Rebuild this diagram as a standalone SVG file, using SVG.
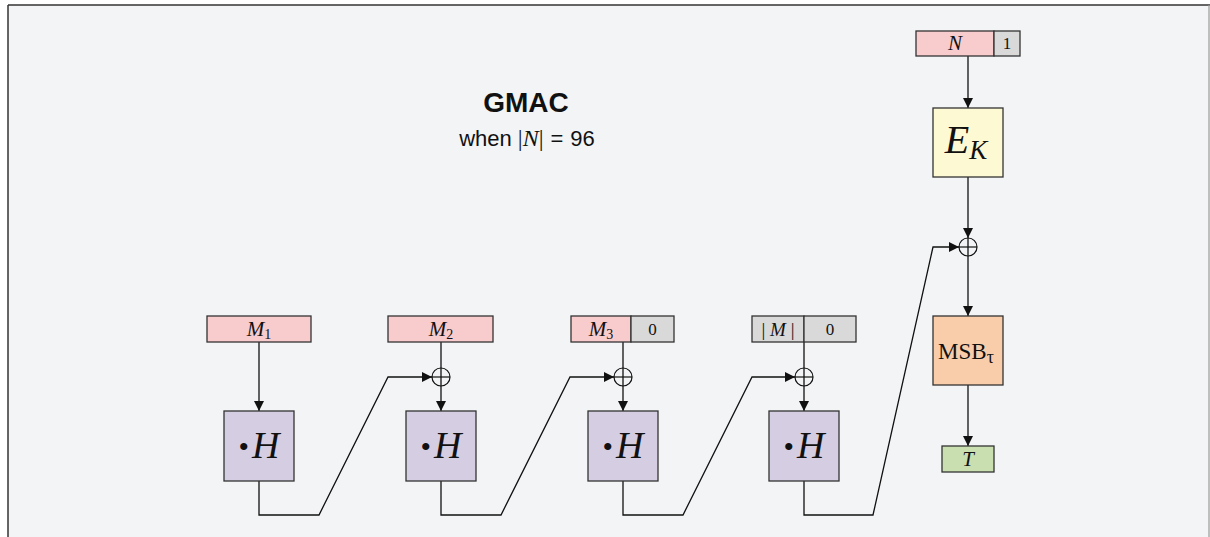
<svg xmlns="http://www.w3.org/2000/svg" width="1210" height="537" viewBox="0 0 1210 537">
  <style>
    .box { stroke: #333; stroke-width: 1.3; }
    .msg { fill: #f8cbcd; }
    .pad { fill: #d9d9d9; }
    .mul { fill: #d5cde1; }
    .enc { fill: #fdf9d3; }
    .trn { fill: #f9cdaa; }
    .tag { fill: #c9dfb0; }
    .wire { fill: none; stroke: #111; stroke-width: 1.3; }
    .xor { fill: none; stroke: #111; stroke-width: 1.2; }
    .math { font-family: "Liberation Serif", "DejaVu Serif", serif; fill: #111; }
    .it { font-style: italic; }
    .sans { font-family: "Liberation Sans", Arial, sans-serif; fill: #111; }
  </style>
  <defs>
    <marker id="arrow" viewBox="0 0 10 10" refX="10" refY="5" markerWidth="10" markerHeight="10" markerUnits="userSpaceOnUse" orient="auto">
      <path d="M0,0 L10,5 L0,10 Z" fill="#111"/>
    </marker>
  </defs>

  <!-- frame -->
  <rect x="0" y="0" width="1210" height="537" fill="#ffffff"/>
  <rect x="8" y="5" width="1202" height="532" fill="#f3f4f6"/>
  <line x1="8" y1="5" x2="1210" y2="5" stroke="#333" stroke-width="1.5"/>
  <line x1="8" y1="5" x2="8" y2="537" stroke="#333" stroke-width="1.5"/>
  <line x1="1209" y1="5" x2="1209" y2="537" stroke="#999" stroke-width="1.2"/>

  <!-- title -->
  <g id="title">
    <text x="526" y="112" text-anchor="middle" class="sans" font-size="28" font-weight="bold">GMAC</text>
    <text x="527" y="146" text-anchor="middle" class="sans" font-size="22">when <tspan class="math" font-size="24">|<tspan class="it">N</tspan>|</tspan><tspan dx="7">=</tspan><tspan dx="7">96</tspan></text>
  </g>

  <!-- connectors -->
  <g id="connectors">
    <!-- inputs into the hash chain -->
    <line class="wire" x1="259" y1="342" x2="259" y2="411" marker-end="url(#arrow)"/>
    <line class="wire" x1="441" y1="342" x2="441" y2="368"/>
    <line class="wire" x1="441" y1="368" x2="441" y2="411" marker-end="url(#arrow)"/>
    <line class="wire" x1="623" y1="342" x2="623" y2="368"/>
    <line class="wire" x1="623" y1="368" x2="623" y2="411" marker-end="url(#arrow)"/>
    <line class="wire" x1="804" y1="342" x2="804" y2="368"/>
    <line class="wire" x1="804" y1="368" x2="804" y2="411" marker-end="url(#arrow)"/>
    <!-- hash outputs fed forward -->
    <polyline class="wire" points="259,481 259,515 319,515 388,377 432,377" marker-end="url(#arrow)"/>
    <polyline class="wire" points="441,481 441,515 501,515 570,377 614,377" marker-end="url(#arrow)"/>
    <polyline class="wire" points="623,481 623,515 683,515 752,377 795,377" marker-end="url(#arrow)"/>
    <polyline class="wire" points="804,481 804,515 873,515 933,247 959,247" marker-end="url(#arrow)"/>
    <!-- nonce path -->
    <line class="wire" x1="968" y1="56" x2="968" y2="108" marker-end="url(#arrow)"/>
    <line class="wire" x1="968" y1="177" x2="968" y2="238" marker-end="url(#arrow)"/>
    <line class="wire" x1="968" y1="238" x2="968" y2="316" marker-end="url(#arrow)"/>
    <line class="wire" x1="968" y1="385" x2="968" y2="446" marker-end="url(#arrow)"/>
    <!-- xor gates -->
    <g>
      <circle class="xor" cx="441" cy="377" r="9"/>
      <line class="xor" x1="432" y1="377" x2="450" y2="377"/>
      <circle class="xor" cx="623" cy="377" r="9"/>
      <line class="xor" x1="614" y1="377" x2="632" y2="377"/>
      <circle class="xor" cx="804" cy="377" r="9"/>
      <line class="xor" x1="795" y1="377" x2="813" y2="377"/>
      <circle class="xor" cx="968" cy="247" r="9"/>
      <line class="xor" x1="959" y1="247" x2="977" y2="247"/>
    </g>
  </g>

  <!-- message blocks -->
  <g id="m1">
    <rect class="box msg" x="207" y="316" width="104" height="26"/>
    <text x="259" y="336" text-anchor="middle" class="math" font-size="21"><tspan class="it">M</tspan><tspan font-size="14" dy="3">1</tspan></text>
  </g>
  <g id="m2">
    <rect class="box msg" x="388" y="316" width="105" height="26"/>
    <text x="441" y="336" text-anchor="middle" class="math" font-size="21"><tspan class="it">M</tspan><tspan font-size="14" dy="3">2</tspan></text>
  </g>
  <g id="m3">
    <rect class="box msg" x="571" y="316" width="60" height="26"/>
    <rect class="box pad" x="631" y="316" width="43" height="26"/>
    <text x="601" y="336" text-anchor="middle" class="math" font-size="21"><tspan class="it">M</tspan><tspan font-size="14" dy="3">3</tspan></text>
    <text x="652.5" y="335" text-anchor="middle" class="math" font-size="17">0</text>
  </g>
  <g id="len">
    <rect class="box pad" x="752" y="316" width="52" height="26"/>
    <rect class="box pad" x="804" y="316" width="52" height="26"/>
    <text x="778" y="336" text-anchor="middle" class="math" font-size="19" xml:space="preserve">| <tspan class="it">M</tspan> |</text>
    <text x="830" y="335" text-anchor="middle" class="math" font-size="17">0</text>
  </g>

  <!-- GHASH multiplications -->
  <g id="h1">
    <rect class="box mul" x="224" y="411" width="70" height="70"/>
    <text x="259" y="458" text-anchor="middle" class="math" font-size="38"><tspan font-size="30" dy="-1">•</tspan><tspan class="it" dx="3" dy="1">H</tspan></text>
  </g>
  <g id="h2">
    <rect class="box mul" x="406" y="411" width="70" height="70"/>
    <text x="441" y="458" text-anchor="middle" class="math" font-size="38"><tspan font-size="30" dy="-1">•</tspan><tspan class="it" dx="3" dy="1">H</tspan></text>
  </g>
  <g id="h3">
    <rect class="box mul" x="588" y="411" width="70" height="70"/>
    <text x="623" y="458" text-anchor="middle" class="math" font-size="38"><tspan font-size="30" dy="-1">•</tspan><tspan class="it" dx="3" dy="1">H</tspan></text>
  </g>
  <g id="h4">
    <rect class="box mul" x="769" y="411" width="70" height="70"/>
    <text x="804" y="458" text-anchor="middle" class="math" font-size="38"><tspan font-size="30" dy="-1">•</tspan><tspan class="it" dx="3" dy="1">H</tspan></text>
  </g>

  <!-- nonce, encryption, truncation, tag -->
  <g id="nonce">
    <rect class="box msg" x="916" y="31" width="78" height="25"/>
    <rect class="box pad" x="994" y="31" width="26" height="25"/>
    <text x="955" y="50" text-anchor="middle" class="math it" font-size="21">N</text>
    <text x="1007" y="49" text-anchor="middle" class="math" font-size="17">1</text>
  </g>
  <g id="ek">
    <rect class="box enc" x="933" y="108" width="70" height="69"/>
    <text x="966" y="153" text-anchor="middle" class="math it" font-size="40">E<tspan font-size="27" dy="6">K</tspan></text>
  </g>
  <g id="msb">
    <rect class="box trn" x="933" y="316" width="70" height="69"/>
    <text x="966" y="359" text-anchor="middle" class="math" font-size="23">MSB<tspan font-size="18" dy="4">τ</tspan></text>
  </g>
  <g id="tag">
    <rect class="box tag" x="942" y="446" width="52" height="26"/>
    <text x="968" y="466" text-anchor="middle" class="math it" font-size="21">T</text>
  </g>
</svg>
